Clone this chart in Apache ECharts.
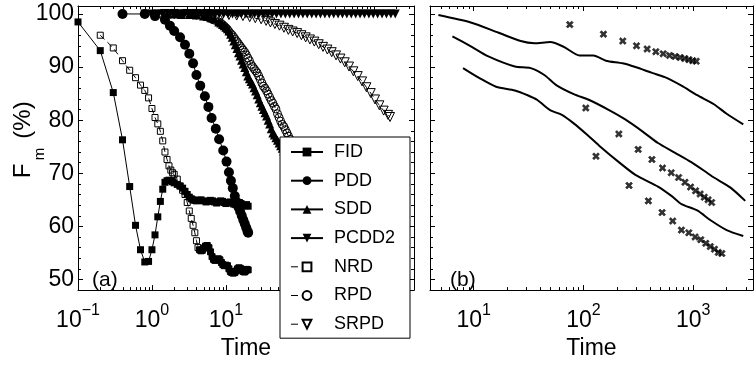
<!DOCTYPE html>
<html>
<head>
<meta charset="utf-8">
<script src="https://cdn.jsdelivr.net/npm/echarts@6/dist/echarts.min.js"></script>
<style>
  html, body { margin: 0; padding: 0; background: #fff; }
  #chart { width: 756px; height: 365px; }
</style>
</head>
<body>
<div id="chart"></div>
<script>
// ---- panel (a) ----
const fidTime = [0.1, 0.2, 0.3, 0.4, 0.5, 0.6, 0.7, 0.8, 0.9, 1.0,
  1.1, 1.2, 1.3, 1.4, 1.5, 1.6, 1.7, 1.8, 1.9, 2.0,
  2.2, 2.4, 2.6, 2.8, 3.0, 3.2, 3.4, 3.6, 3.8, 4.0,
  4.3, 4.6, 5.0, 5.4, 5.8, 6.2, 6.6, 7.0, 7.5, 8.0,
  8.5, 9.0, 9.5, 10, 10.7, 11.4, 12.1, 12.8, 13.6, 14.4,
  15.2, 16, 17, 18, 19, 20];
const fidValue = [98.5, 93.1, 85.2, 76.3, 67.5, 60.2, 55.6, 53.3, 53.4, 55.6,
  58.4, 61.8, 64.7, 67.0, 68.3, 68.6, 68.7, 68.6, 68.4, 68.2,
  67.9, 67.6, 67.2, 66.6, 66.0, 65.5, 65.2, 65.0, 64.9, 64.8,
  64.9, 65.0, 64.8, 64.6, 64.7, 64.9, 64.8, 64.6, 64.4, 64.6,
  64.8, 64.7, 64.5, 64.3, 64.5, 64.6, 64.4, 64.2, 64.1, 64.3,
  64.5, 64.3, 64.0, 63.9, 64.1, 63.8];

const pddTime = [0.4, 0.8, 1.1, 1.5, 1.75, 2.0, 2.4, 2.8, 3.2, 3.6,
  4.0, 4.5, 5.2, 5.8, 6.4, 7.3, 8.1, 9.2, 10.2, 11.0,
  11.7, 12.4, 13.2, 14.0, 14.8, 15.6, 16.4, 17.2, 18.0, 18.8,
  19.6, 20];
const pddValue = [100, 100, 99.6, 98.9, 97.8, 96.8, 95.6, 94.2, 92.5, 90.7,
  88.5, 86.5, 84.5, 82.5, 80.4, 78.4, 76.4, 74.3, 72.2, 70.2,
  68.6, 67.2, 65.7, 64.6, 63.6, 62.8, 62.0, 61.2, 60.5, 59.8,
  59.1, 58.8];

const sddTime = [1.6, 2.0, 2.5, 3.2, 4.0, 5.0, 5.6, 6.3, 7.1, 8.0,
  8.5, 9.0, 9.5, 10.0, 10.5, 11.0, 11.6, 12.2, 12.8, 13.4,
  14.1, 14.8, 15.5, 16.3, 17.1, 18.0, 18.9, 19.8, 20.8, 21.8,
  22.9, 24.0, 25.2, 26.5, 27.8, 29.2, 30.7, 32.2, 33.8, 35.5,
  37.3, 39.1, 41.1, 43.1, 45.3, 47.5, 49.9, 52.4, 55.0, 57.8,
  60.7, 63.7, 66.9, 70.2, 73.7, 77.4];
const sddValue = [100, 100, 99.9, 99.9, 99.8, 99.6, 99.5, 99.3, 99.0, 98.5,
  98.3, 98.0, 97.8, 97.5, 97.2, 96.8, 96.2, 95.6, 94.9, 94.2,
  93.5, 92.7, 92.1, 91.3, 90.6, 89.9, 89.1, 88.3, 87.8, 87.3,
  86.8, 86.1, 85.5, 84.8, 84.0, 83.3, 82.6, 82.0, 81.4, 80.8,
  80.0, 79.3, 78.4, 77.6, 77.2, 76.7, 76.2, 75.7, 75.2, 74.7,
  74.2, 73.6, 73.0, 72.4, 71.8, 71.2];

const pcddTime = [0.8, 1.0, 1.2, 1.4, 1.7, 2.0, 2.3, 2.7, 3.1, 3.6,
  4.1, 4.7, 5.4, 6.2, 7.1, 8.1, 9.3, 10.7, 12.3, 14.1,
  16.2, 18.6, 21.3, 24.4, 28.0, 32.1, 36.8, 42.2, 48.4, 55.5,
  63.7, 73.0, 83.7, 96.0, 110, 126, 145, 166, 190, 218,
  250, 287, 329, 377, 432, 496, 569, 652, 748, 858,
  984, 1128, 1294, 1484, 1702, 1952];
const pcddValue = [100, 100, 100, 100, 100, 100, 100, 100, 100, 100,
  100, 100, 100, 100, 100, 100, 100, 100, 100, 100,
  100, 100, 100, 100, 100, 100, 100, 100, 100, 100,
  100, 100, 100, 100, 100, 100, 100, 100, 100, 100,
  100, 100, 100, 100, 100, 100, 100, 100, 100, 100,
  100, 100, 100, 100, 100, 100];

const nrdTime = [0.2, 0.3, 0.4, 0.5, 0.6, 0.7, 0.8, 0.9, 1.0, 1.1,
  1.2, 1.3, 1.4, 1.5, 1.6, 1.7, 1.8, 1.9, 2.0, 2.2,
  2.4, 2.6, 2.8, 3.0, 3.2, 3.4, 3.6, 3.8, 4.0, 4.2,
  4.4, 4.6, 4.8, 5.0, 5.3, 5.6, 5.9, 6.2, 6.5, 6.8,
  7.1, 7.5, 7.9, 8.3, 8.7, 9.1, 9.5, 10, 10.5, 11,
  11.5, 12, 12.6, 13.2, 13.8, 14.4, 15, 15.7, 16.4, 17.1,
  17.8, 18.5, 19.2, 20];
const nrdValue = [96.0, 93.6, 91.2, 89.4, 88.0, 86.6, 85.6, 84.2, 82.2, 80.5,
  79.3, 77.9, 76.1, 74.0, 72.6, 71.4, 70.6, 70.1, 69.8, 68.9,
  67.6, 66.8, 66.0, 64.5, 62.9, 61.5, 60.2, 58.8, 57.3, 56.0,
  55.6, 55.4, 55.5, 55.9, 56.3, 56.4, 56.0, 55.2, 54.3, 53.8,
  53.6, 53.7, 53.9, 53.7, 53.2, 52.8, 52.6, 52.7, 52.6, 52.0,
  51.5, 51.3, 51.2, 51.3, 51.6, 52.0, 52.2, 52.1, 51.8, 51.5,
  51.4, 51.6, 51.9, 51.8];

const rpdTime = [1.2, 1.6, 2.0, 2.5, 3.2, 4.0, 5.0, 5.6, 6.3, 7.1,
  8.0, 8.5, 9.0, 9.5, 10.0, 10.5, 11.0, 11.6, 12.2, 12.8,
  13.4, 14.1, 14.8, 15.5, 16.3, 17.1, 18.0, 18.9, 19.8, 20.8,
  21.8, 22.9, 24.0, 25.2, 26.5, 27.8, 29.2, 30.7, 32.2, 33.8,
  35.5, 37.3, 39.1, 41.1, 43.1, 45.3, 47.5, 49.9, 52.4, 55.0,
  57.8, 60.7, 63.7, 66.9, 70.2, 73.7, 77.4];
const rpdValue = [100, 100, 100, 100, 99.9, 99.8, 99.6, 99.4, 99.1, 98.8,
  98.5, 98.3, 98.0, 97.7, 97.4, 97.1, 96.7, 96.3, 96.0, 95.6,
  95.2, 94.8, 94.4, 94.0, 93.6, 93.2, 92.8, 92.3, 91.7, 91.2,
  90.5, 90.1, 89.7, 89.3, 88.9, 88.3, 87.7, 87.0, 86.4, 86.0,
  85.5, 84.9, 84.3, 83.7, 83.2, 82.6, 82.1, 81.2, 80.5, 79.8,
  79.2, 78.8, 78.2, 77.6, 77.0, 76.4, 75.8];

const srpdTime = [1.5, 2, 3, 4, 5.5, 7, 9, 11, 14, 17,
  21, 25, 30, 35, 40, 46, 53, 61, 70, 80,
  92, 105, 120, 137, 157, 180, 206, 236, 270, 309,
  354, 405, 463, 530, 607, 695, 795, 910, 1040, 1190,
  1360, 1560, 1660];
const srpdValue = [100, 100, 100, 100, 100, 99.9, 99.9, 99.8, 99.7, 99.6,
  99.4, 99.2, 99.0, 98.7, 98.4, 98.1, 97.8, 97.4, 97.0, 96.7,
  96.4, 96.0, 95.6, 95.2, 94.8, 94.3, 93.8, 93.3, 92.8, 92.2,
  91.6, 90.9, 90.1, 89.2, 88.3, 87.3, 86.2, 85.1, 83.9, 82.8,
  81.8, 81.0, 80.6];

// ---- panel (b) ----
const line1Time = [4.77, 9.4, 16.7, 26.8, 35.8, 49.7, 66.3, 92, 123, 160, 227, 297, 422, 551, 781, 1086, 1542, 2014, 2853];
const line1Value = [99.8, 98.4, 96.5, 94.9, 94.5, 94.7, 93.8, 92.2, 92.2, 91.2, 90.7, 90.0, 88.9, 88.1, 86.5, 84.7, 83.0, 81.2, 79.2];
const line2Time = [6.4, 9.6, 13.6, 23.7, 33, 44, 57.4, 81.5, 113, 171, 242, 344, 477, 677, 959, 1334, 1542, 2184, 2974];
const line2Value = [95.8, 93.8, 92.0, 90.1, 89.8, 88.5, 86.5, 84.9, 83.8, 81.9, 80.1, 77.9, 75.7, 73.9, 72.1, 70.1, 69.2, 67.3, 64.8];
const line3Time = [8.0, 11.1, 16.0, 23.7, 31, 38, 49.7, 63.6, 81.5, 106, 139, 210, 297, 477, 637, 781, 1086, 1449, 2014, 2853];
const line3Value = [89.8, 88.0, 86.3, 85.6, 84.7, 83.8, 81.9, 81.0, 79.4, 77.4, 75.2, 72.1, 69.7, 67.5, 65.7, 64.2, 63.0, 61.1, 59.3, 58.2];

const crossATime = [75, 152, 228, 304, 380, 456, 532, 608, 684, 760, 836, 912, 988, 1064];
const crossAValue = [98.0, 96.2, 94.9, 94.0, 93.4, 92.9, 92.5, 92.2, 92.0, 91.8, 91.6, 91.4, 91.2, 91.1];
const crossBTime = [105, 210, 315, 420, 525, 630, 735, 840, 945, 1050, 1155, 1260, 1365, 1470];
const crossBValue = [82.3, 77.4, 74.5, 72.6, 71.0, 70.1, 69.2, 68.3, 67.4, 66.7, 66.1, 65.5, 65.0, 64.5];
const crossCTime = [130, 260, 390, 520, 650, 780, 910, 1040, 1170, 1300, 1430, 1560, 1690, 1820];
const crossCValue = [73.2, 67.7, 64.8, 62.6, 61.0, 59.3, 58.8, 58.0, 57.5, 56.8, 56.2, 55.7, 55.1, 54.9];

const FONT = 'Liberation Sans';
const pair = (ts, vs) => ts.map((t, i) => [t, vs[i]]);

// 10^n 형식의 눈금 라벨
function logLabel(v) {
  const e = Math.round(Math.log10(v));
  if (Math.abs(Math.log10(v) - e) > 1e-6) return '';
  return '{b|10}{s|' + (e < 0 ? '\u2212' + (-e) : e) + '}';
}

// 로그축 보조 눈금 (2..9 x 10^k)
function minorTicks(lo, hi) {
  const out = [];
  for (let e = -2; e <= 4; e++) {
    for (let m = 2; m <= 9; m++) {
      const v = m * Math.pow(10, e);
      if (v > lo && v < hi) out.push([v, 50]);
    }
  }
  return out;
}

function renderMinor(params, api) {
  const cs = params.coordSys;
  const x = Math.round(api.coord([api.value(0), 50])[0]) + 0.5;
  const b = cs.y + cs.height;
  return {
    type: 'group',
    children: [
      { type: 'line', shape: { x1: x, y1: b, x2: x, y2: b - 3 }, style: { stroke: '#000', lineWidth: 1 } },
      { type: 'line', shape: { x1: x, y1: cs.y, x2: x, y2: cs.y + 3 }, style: { stroke: '#000', lineWidth: 1 } }
    ]
  };
}

const axisLine = { onZero: false, lineStyle: { color: '#000', width: 1 } };

function xAxis(grid, pos, min, max, labels) {
  return {
    type: 'log', logBase: 10, gridIndex: grid, position: pos, min: min, max: max,
    axisLine: axisLine,
    axisTick: { inside: true, length: 5, lineStyle: { color: '#000' } },
    splitLine: { show: false },
    axisLabel: labels ? {
      margin: 12,
      formatter: logLabel,
      rich: {
        b: { fontSize: 23, fontFamily: FONT, color: '#000', padding: [7, 0, 0, 0], verticalAlign: 'top' },
        s: { fontSize: 16, fontFamily: FONT, color: '#000', verticalAlign: 'top' }
      }
    } : { show: false },
    name: labels ? 'Time' : '',
    nameLocation: 'middle',
    nameGap: 42,
    nameTextStyle: { fontSize: 23, fontFamily: FONT, color: '#000' }
  };
}

function yAxis(grid, pos, labels) {
  return {
    type: 'value', gridIndex: grid, position: pos, min: 48, max: 101.5, splitNumber: 5,
    axisLine: axisLine,
    axisTick: { inside: true, length: 5, lineStyle: { color: '#000' } },
    minorTick: { show: true, splitNumber: 5, length: 3, lineStyle: { color: '#000' } },
    splitLine: { show: false },
    axisLabel: labels ? {
      margin: 4, fontSize: 23, fontFamily: FONT, color: '#000',
      showMinLabel: false, showMaxLabel: false,
      formatter: (v) => (v % 10 === 0 ? String(v) : '')
    } : { show: false }
  };
}

// darkFrom: 이 시간 이후의 빈 마커는 겹쳐서 검게 보이므로 채움
function markerLine(name, time, value, symbol, size, filled, dashed, rotate, darkFrom) {
  const data = time.map((t, i) => {
    if (darkFrom !== undefined && t >= darkFrom) {
      return { value: [t, value[i]], itemStyle: { color: '#000' } };
    }
    return [t, value[i]];
  });
  return {
    name: name, type: 'line', xAxisIndex: 0, yAxisIndex: 0,
    data: data,
    symbol: symbol, symbolSize: size, symbolRotate: rotate || 0,
    showSymbol: true,
    lineStyle: { color: '#000', width: 1, type: dashed ? [6, 4] : 'solid' },
    itemStyle: {
      color: filled ? '#000' : 'rgba(0,0,0,0)',
      borderColor: '#000', borderWidth: filled ? 0 : 1
    },
    emphasis: { disabled: true },
    z: 3
  };
}

function plainLine(time, value) {
  return {
    type: 'line', xAxisIndex: 2, yAxisIndex: 2,
    data: pair(time, value), showSymbol: false, smooth: 0.25,
    lineStyle: { color: '#000', width: 2 },
    itemStyle: { color: '#000' },
    emphasis: { disabled: true }
  };
}

const crossPath = 'path://M0,2.2L2.2,0L5,2.8L7.8,0L10,2.2L7.2,5L10,7.8L7.8,10L5,7.2L2.2,10L0,7.8L2.8,5Z';

function crosses(time, value) {
  return {
    type: 'scatter', xAxisIndex: 2, yAxisIndex: 2,
    data: pair(time, value), symbol: crossPath, symbolSize: 7,
    itemStyle: { color: '#000', borderColor: '#000', borderWidth: 0.6 },
    emphasis: { disabled: true }
  };
}

const dashLegend = { color: '#000', width: 1, type: [7, 40] };

const chart = echarts.init(document.getElementById('chart'));

chart.setOption({
  animation: false,
  backgroundColor: '#fff',
  textStyle: { fontFamily: FONT },
  grid: [
    { left: 78, top: 6, width: 336, height: 293 },
    { left: 430, top: 6, width: 330, height: 293 }
  ],
  xAxis: [
    xAxis(0, 'bottom', 0.1, 3500, true),
    xAxis(0, 'top', 0.1, 3500, false),
    xAxis(1, 'bottom', 4, 3500, true),
    xAxis(1, 'top', 4, 3500, false)
  ],
  yAxis: [
    yAxis(0, 'left', true),
    yAxis(0, 'right', false),
    yAxis(1, 'left', false),
    yAxis(1, 'right', false)
  ],
  legend: {
    data: ['FID', 'PDD', 'SDD', 'PCDD2',
      { name: 'NRD', lineStyle: dashLegend },
      { name: 'RPD', lineStyle: dashLegend },
      { name: 'SRPD', lineStyle: dashLegend }],
    orient: 'vertical',
    left: 280, top: 137,
    itemWidth: 32, itemHeight: 11, itemGap: 10.7,
    padding: [6, 15, 5, 10],
    borderColor: '#000', borderWidth: 1, borderRadius: 0,
    backgroundColor: '#fff',
    selectedMode: false,
    textStyle: { fontSize: 18, fontFamily: FONT, color: '#000', lineHeight: 11, padding: [0, 0, 0, 6] }
  },
  graphic: [
    { type: 'text', left: 92, top: 270, style: { text: '(a)', font: '21px "Liberation Sans"', fill: '#000' } },
    { type: 'text', left: 450, top: 270, style: { text: '(b)', font: '21px "Liberation Sans"', fill: '#000' } },
    { type: 'text', x: 23, y: 171, rotation: Math.PI / 2,
      style: { text: 'F', font: '24px "Liberation Sans"', fill: '#000', align: 'center', verticalAlign: 'middle' } },
    { type: 'text', x: 40, y: 154, rotation: Math.PI / 2,
      style: { text: 'm', font: '15px "Liberation Sans"', fill: '#000', align: 'center', verticalAlign: 'middle' } },
    { type: 'text', x: 23, y: 120, rotation: Math.PI / 2,
      style: { text: '(%)', font: '24px "Liberation Sans"', fill: '#000', align: 'center', verticalAlign: 'middle' } }
  ],
  series: [
    markerLine('FID', fidTime, fidValue, 'rect', 7, true, false),
    markerLine('PDD', pddTime, pddValue, 'circle', 10, true, false),
    markerLine('SDD', sddTime, sddValue, 'triangle', 9, true, false),
    markerLine('PCDD2', pcddTime, pcddValue, 'triangle', 9, true, false, 180),
    markerLine('NRD', nrdTime, nrdValue, 'rect', 6, false, true, 0, 4.3),
    markerLine('RPD', rpdTime, rpdValue, 'circle', 8, false, true),
    markerLine('SRPD', srpdTime, srpdValue, 'triangle', 9, false, true, 180),
    plainLine(line1Time, line1Value),
    plainLine(line2Time, line2Value),
    plainLine(line3Time, line3Value),
    crosses(crossATime, crossAValue),
    crosses(crossBTime, crossBValue),
    crosses(crossCTime, crossCValue),
    {
      type: 'custom', xAxisIndex: 0, yAxisIndex: 0, silent: true,
      data: minorTicks(0.1, 3500), renderItem: renderMinor
    },
    {
      type: 'custom', xAxisIndex: 2, yAxisIndex: 2, silent: true,
      data: minorTicks(4, 3500), renderItem: renderMinor
    }
  ]
});
</script>
</body>
</html>
